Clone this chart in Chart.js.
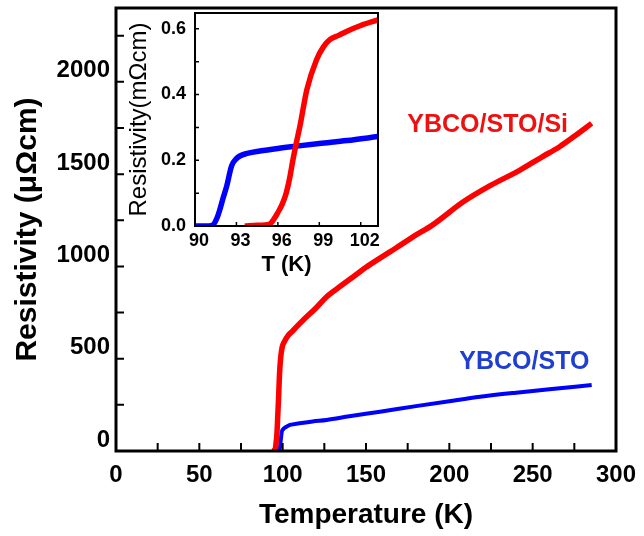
<!DOCTYPE html>
<html>
<head>
<meta charset="utf-8">
<script src="https://cdn.jsdelivr.net/npm/chart.js@4"></script>
<style>
  html, body { margin: 0; padding: 0; background: #fff; }
  #wrap { position: relative; width: 644px; height: 536px; }
  #main { position: absolute; left: 0; top: 0; width: 644px; height: 536px; }
  #inset { position: absolute; left: 120px; top: 0; width: 270px; height: 280px; }
</style>
</head>
<body>
<div id="wrap">
  <canvas id="main" width="644" height="536"></canvas>
  <canvas id="inset" width="270" height="280"></canvas>
</div>
<script>
// main panel: resistivity (uOhm cm) vs temperature (K)
const siT = [93.5, 94.5, 95.4, 96.0, 96.6, 97.1, 97.6, 98.1, 98.8, 99.8, 101, 103.2, 106, 108, 112.4, 120, 126.4, 135, 142.4, 150, 158.4, 168, 178.4, 190, 208.4, 225, 242.4, 255, 266.4, 275, 285.4];
const siR = [0, 0, 2, 40, 100, 200, 300, 415, 505, 567, 592, 625, 650, 670, 710, 775, 836, 895, 944, 995, 1045, 1100, 1161, 1225, 1350, 1440, 1522, 1590, 1650, 1705, 1775];
const stoT = [97.6, 98.4, 99.0, 99.5, 100.5, 102, 104.4, 110, 118, 126.4, 140, 158.4, 180, 200, 218.4, 240, 260, 285.4];
const stoR = [0, 20, 70, 105, 120, 130, 141, 150, 160, 168, 188, 213, 243, 270, 294, 316, 334, 358];

const xTicks = [0, 50, 100, 150, 200, 250, 300];
const xMarks = [25, 50, 75, 100, 125, 150, 175, 200, 225, 250, 275];
const yTicks = [0, 500, 1000, 1500, 2000];
const yMarks = [250, 500, 750, 1000, 1250, 1500, 1750, 2000, 2250];

const labelText = ['YBCO/STO/Si', 'YBCO/STO'];
const labelT = [223, 245];
const labelR = [1766, 482];
const labelColor = ['#ee1111', '#1f3fd0'];

// inset: resistivity (mOhm cm) near the transition
const insetSiT = [93.6, 94.5, 95.4, 95.7, 96.0, 96.3, 96.6, 96.85, 97.1, 97.35, 97.6, 98.1, 98.8, 99.3, 99.76, 100.4, 100.97, 102, 103.25];
const insetSiR = [0, 0.002, 0.006, 0.02, 0.041, 0.065, 0.10, 0.145, 0.203, 0.255, 0.304, 0.415, 0.506, 0.545, 0.567, 0.58, 0.592, 0.61, 0.627];
const insetStoT = [90, 91, 91.3, 91.6, 91.8, 92.0, 92.3, 92.65, 93.0, 93.25, 93.7, 94.7, 96, 97.35, 99, 101, 103.25];
const insetStoR = [0, 0, 0.003, 0.025, 0.05, 0.08, 0.122, 0.183, 0.205, 0.213, 0.22, 0.228, 0.236, 0.243, 0.251, 0.26, 0.272];

const insetXTicks = [90, 93, 96, 99, 102];
const insetYTicks = [0, 0.2, 0.4, 0.6];
const insetYMarks = [0.1, 0.2, 0.3, 0.4, 0.5, 0.6];

const FONT = "'Liberation Sans', Arial, sans-serif";
const RED = '#ff0000';
const BLUE = '#0000ff';

const pts = (xs, ys) => xs.map((x, i) => ({ x, y: ys[i] }));

// box frame plus inward tick marks, drawn through the chart's own scales
const frameTicks = {
  id: 'frameTicks',
  afterDatasetsDraw(chart, args, opts) {
    const { ctx, chartArea: a, scales: { x, y } } = chart;
    ctx.save();
    ctx.strokeStyle = '#000';
    ctx.lineWidth = opts.tickWidth;
    ctx.beginPath();
    opts.xMarks.forEach(v => {
      const px = x.getPixelForValue(v);
      ctx.moveTo(px, a.bottom);
      ctx.lineTo(px, a.bottom - opts.tickLen);
    });
    opts.yMarks.forEach(v => {
      const py = y.getPixelForValue(v);
      ctx.moveTo(a.left, py);
      ctx.lineTo(a.left + opts.tickLen, py);
    });
    ctx.stroke();
    ctx.lineWidth = opts.frameWidth;
    ctx.strokeRect(a.left, a.top, a.right - a.left, a.bottom - a.top);

    (opts.labels || []).forEach(l => {
      ctx.font = l.font;
      ctx.fillStyle = l.color;
      ctx.textAlign = 'center';
      ctx.textBaseline = 'middle';
      ctx.fillText(l.text, x.getPixelForValue(l.x), y.getPixelForValue(l.y));
    });
    ctx.restore();
  }
};

const fixSize = (prop, size) => s => {
  s[prop] = size;
  s.paddingTop = 0; s.paddingBottom = 0; s.paddingLeft = 0; s.paddingRight = 0;
};
const setTicks = vals => s => { s.ticks = vals.map(v => ({ value: v })); };

new Chart(document.getElementById('main'), {
  type: 'line',
  data: {
    datasets: [
      { data: pts(siT, siR), borderColor: RED, borderWidth: 5.5, pointRadius: 0, cubicInterpolationMode: 'monotone' },
      { data: pts(stoT, stoR), borderColor: BLUE, borderWidth: 4, pointRadius: 0, cubicInterpolationMode: 'monotone' }
    ]
  },
  options: {
    responsive: false,
    animation: false,
    layout: { padding: { left: 0, top: 8, right: 28, bottom: 0 } },
    plugins: {
      legend: { display: false },
      tooltip: { enabled: false },
      frameTicks: {
        xMarks, yMarks, tickLen: 8, tickWidth: 2, frameWidth: 3,
        labels: labelText.map((t, i) => ({ text: t, x: labelT[i], y: labelR[i], color: labelColor[i], font: 'bold 25px ' + FONT }))
      }
    },
    scales: {
      x: {
        type: 'linear', min: 0, max: 300,
        grid: { display: false, drawTicks: false },
        border: { display: false },
        afterBuildTicks: setTicks(xTicks),
        afterFit: fixSize('height', 85),
        ticks: { color: '#000', padding: 10, callback: v => String(v), font: { family: FONT, size: 24, weight: 'bold' } },
        title: { display: true, text: 'Temperature (K)', color: '#000', padding: { top: 0, bottom: 4 }, font: { family: FONT, size: 28, weight: 'bold' } }
      },
      y: {
        type: 'linear', min: 0, max: 2400,
        grid: { display: false, drawTicks: false },
        border: { display: false },
        afterBuildTicks: setTicks(yTicks),
        afterFit: fixSize('width', 116),
        ticks: { color: '#000', padding: 6, labelOffset: -11, callback: v => String(v), font: { family: FONT, size: 24, weight: 'bold' } },
        title: { display: true, text: 'Resistivity (μΩcm)', color: '#000', padding: { top: 10, bottom: 0 }, font: { family: FONT, size: 30, weight: 'bold' } }
      }
    }
  },
  plugins: [frameTicks]
});

new Chart(document.getElementById('inset'), {
  type: 'line',
  data: {
    datasets: [
      { data: pts(insetSiT, insetSiR), borderColor: RED, borderWidth: 5.5, pointRadius: 0, cubicInterpolationMode: 'monotone' },
      { data: pts(insetStoT, insetStoR), borderColor: BLUE, borderWidth: 5.5, pointRadius: 0, cubicInterpolationMode: 'monotone' }
    ]
  },
  options: {
    responsive: false,
    animation: false,
    layout: { padding: { left: 0, top: 13, right: 12, bottom: 0 } },
    plugins: {
      legend: { display: false },
      tooltip: { enabled: false },
      frameTicks: { xMarks: insetXTicks, yMarks: insetYMarks, tickLen: 4, tickWidth: 1.5, frameWidth: 2 }
    },
    scales: {
      x: {
        type: 'linear', min: 90, max: 103.25,
        grid: { display: false, drawTicks: false },
        border: { display: false },
        afterBuildTicks: setTicks(insetXTicks),
        afterFit: fixSize('height', 54),
        ticks: { color: '#000', padding: 4, labelOffset: 4, callback: v => String(v), font: { family: FONT, size: 18, weight: 'bold' } },
        title: { display: true, text: 'T (K)', color: '#000', padding: { top: 0, bottom: 2 }, font: { family: FONT, size: 22, weight: 'bold' } }
      },
      y: {
        type: 'linear', min: 0, max: 0.648,
        grid: { display: false, drawTicks: false },
        border: { display: false },
        afterBuildTicks: setTicks(insetYTicks),
        afterFit: fixSize('width', 75),
        ticks: { color: '#000', padding: 9, callback: v => v.toFixed(1), font: { family: FONT, size: 18, weight: 'bold' } },
        title: { display: true, text: 'Resistivity(mΩcm)', color: '#000', padding: { top: 5, bottom: 0 }, font: { family: FONT, size: 24, weight: 'normal' } }
      }
    }
  },
  plugins: [frameTicks]
});
</script>
</body>
</html>
